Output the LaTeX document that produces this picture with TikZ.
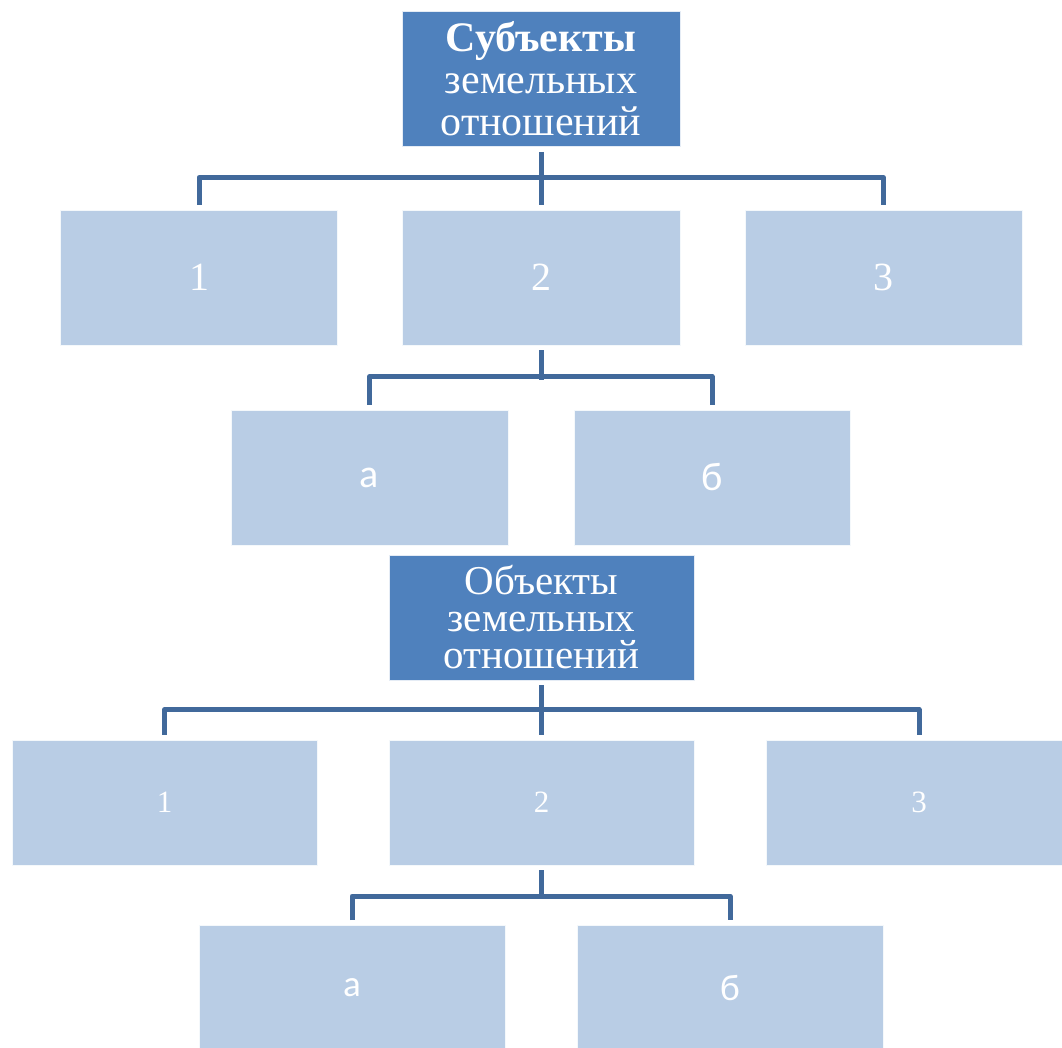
\documentclass[tikz,border=0pt]{standalone}
\usepackage{fontspec}
\setmainfont{Liberation Serif}
\newfontfamily\calib{Carlito}
\definecolor{darkbox}{HTML}{4F81BD}
\definecolor{lightbox}{HTML}{B9CDE5}
\definecolor{connc}{HTML}{41699B}
\tikzset{
  headbox/.style={rectangle, fill=darkbox, draw=white!85!darkbox, line width=0.8pt, text=white, align=center, inner sep=0pt},
  itembox/.style={rectangle, fill=lightbox, draw=white!85!lightbox, line width=0.8pt, text=white, align=center, inner sep=0pt},
  conn/.style={draw=connc, line width=5pt, line join=round, line cap=butt}
}
\begin{document}
\begin{tikzpicture}[x=1pt,y=-1pt]
\useasboundingbox (0,0) rectangle (1062,1047);
% top part
\node[headbox, minimum width=278pt, minimum height=135pt, font=\fontsize{42}{42}\selectfont] (T1) at (541,79)
  {\textbf{Субъекты}\\ земельных\\ отношений};
\node[itembox, minimum width=277pt, minimum height=135pt, font=\fontsize{40}{44}\selectfont] (A1) at (199,277.5) {1};
\node[itembox, minimum width=278pt, minimum height=135pt, font=\fontsize{40}{44}\selectfont] (A2) at (541,277.5) {2};
\node[itembox, minimum width=277pt, minimum height=135pt, font=\fontsize{40}{44}\selectfont] (A3) at (883.5,277.5) {3};
\node[itembox, minimum width=277pt, minimum height=135pt, font=\calib\fontsize{40}{44}\selectfont] (Aa) at (369.5,477.5) {а};
\node[itembox, minimum width=276pt, minimum height=135pt, font=\calib\fontsize{40}{44}\selectfont] (Ab) at (712,477.5) {б};
% bottom part
\node[headbox, minimum width=305pt, minimum height=125pt, font=\fontsize{41}{37}\selectfont] (T2) at (541.5,617.5)
  {Объекты\\ земельных\\ отношений};
\node[itembox, minimum width=305pt, minimum height=125pt, font=\fontsize{31}{34}\selectfont] (B1) at (164.5,802.5) {1};
\node[itembox, minimum width=305pt, minimum height=125pt, font=\fontsize{31}{34}\selectfont] (B2) at (541.5,802.5) {2};
\node[itembox, minimum width=305pt, minimum height=125pt, font=\fontsize{31}{34}\selectfont] (B3) at (919,802.5) {3};
\node[itembox, minimum width=306pt, minimum height=125pt, font=\calib\fontsize{37}{40}\selectfont] (Ba) at (352,988) {а};
\node[itembox, minimum width=306pt, minimum height=125pt, font=\calib\fontsize{37}{40}\selectfont] (Bb) at (730,988) {б};
% connectors
\draw[conn] ([yshift=-5pt]T1.south) -- ([yshift=5pt]A2.north);
\draw[conn] ([yshift=5pt]A1.north) -- ++(0,-27) -| ([yshift=5pt]A3.north);
\draw[conn] ([yshift=-5pt]A2.south) -- ([yshift=30pt]Aa.north -| A2.south);
\draw[conn] ([yshift=5pt]Aa.north) -- ++(0,-28) -| ([yshift=5pt]Ab.north);
\draw[conn] ([yshift=-5pt]T2.south) -- ([yshift=5pt]B2.north);
\draw[conn] ([yshift=5pt]B1.north) -- ++(0,-25) -| ([yshift=5pt]B3.north);
\draw[conn] ([yshift=-5pt]B2.south) -- ([yshift=28pt]Ba.north -| B2.south);
\draw[conn] ([yshift=5pt]Ba.north) -- ++(0,-24) -| ([yshift=5pt]Bb.north);
\end{tikzpicture}
\end{document}
